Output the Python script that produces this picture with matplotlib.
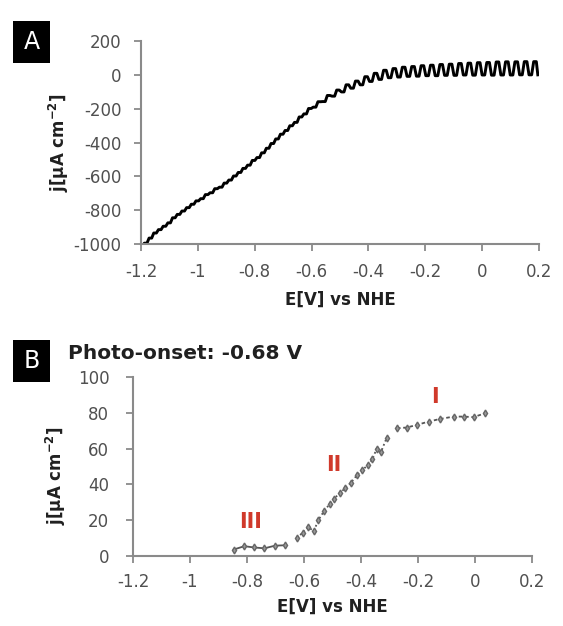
import numpy as np
import matplotlib
matplotlib.use("Agg")
from matplotlib import pyplot as plt
from matplotlib.patches import Rectangle

plt.rcParams['font.family'] = ['DejaVu Sans']
plt.rcParams['axes.unicode_minus'] = False

#==============================================#
# Panel A: chopped-light LSV, one dark/light pair per chop period
E_inicio = -1.19
periodo = 0.033
j_escuro = [-995, -935, -895, -845, -805, -765, -732, -697, -664, -622,
            -577, -534, -489, -434, -379, -329, -281, -231, -191, -158,
            -126, -101, -79, -59, -39, -27, -17, -13, -9, -8,
            -5, -5, -3, -3, -1, -2, -1, -2, -1, -1,
            0, 0]
j_luz = [-965, -915, -875, -825, -785, -745, -708, -673, -640, -598,
         -553, -506, -461, -406, -351, -301, -249, -199, -159, -122,
         -90, -59, -37, -11, 9, 27, 37, 45, 49, 54,
         57, 61, 63, 67, 69, 72, 73, 76, 77, 77,
         78, 78]

# Panel B: photocurrent, three regions
E_III = [-0.847, -0.809, -0.777, -0.739, -0.701, -0.666]
j_III = [3.6, 5.5, 4.8, 4.3, 5.8, 6.0]
E_II = [-0.625, -0.605, -0.585, -0.565, -0.55, -0.53, -0.51, -0.495, -0.475,
        -0.455, -0.435, -0.415, -0.395, -0.375, -0.36, -0.345, -0.33, -0.31]
j_II = [10, 13, 16, 14, 20, 25, 29, 32, 35, 38, 41, 45, 48, 51, 54, 60, 58, 66]
E_I = [-0.274, -0.239, -0.203, -0.163, -0.122, -0.075, -0.040, -0.005, 0.036]
j_I = [71.4, 71.8, 73.3, 75.1, 76.6, 77.9, 77.9, 77.6, 79.8]

xticks_val = [-1.2, -1.0, -0.8, -0.6, -0.4, -0.2, 0.0, 0.2]
xticks_txt = ["-1.2", "-1", "-0.8", "-0.6", "-0.4", "-0.2", "0", "0.2"]
#==============================================#

# monta a curva (escuro -> luz) de cada periodo, com flancos inclinados
x_a, y_a = [E_inicio], [-1000]
for k in range(len(j_escuro)):
    e0 = E_inicio + k * periodo
    x_a += [e0 + 0.06 * periodo, e0 + 0.34 * periodo, e0 + 0.56 * periodo, e0 + 0.84 * periodo]
    y_a += [j_escuro[k], j_escuro[k], j_luz[k], j_luz[k]]
x_a.append(E_inicio + len(j_escuro) * periodo)
y_a.append(j_escuro[-1])

CINZA = "#8a8a8a"
TEXTO = "#505050"

fig = plt.figure(figsize=(5.63, 6.26), dpi=100)
ax_a = fig.add_axes([0.2504, 0.6102, 0.7069, 0.3243])
ax_b = fig.add_axes([0.2362, 0.1118, 0.7087, 0.2859])

for ax in (ax_a, ax_b):
    for lado in ("top", "right"):
        ax.spines[lado].set_visible(False)
    for lado in ("left", "bottom"):
        ax.spines[lado].set_color(CINZA)
        ax.spines[lado].set_linewidth(1.5)
    ax.tick_params(direction="out", length=5, width=1.3, color=CINZA,
                   labelcolor=TEXTO, labelsize=12)
    ax.set_xlim(-1.2, 0.2)
    ax.set_xticks(xticks_val)
    ax.set_xticklabels(xticks_txt)
    ax.set_xlabel("E[V] vs NHE", fontsize=12, fontweight="bold", color="#202020")
    ax.set_ylabel(r"j[µA cm$^{\mathbf{-2}}$]", fontsize=12, fontweight="bold", color="#202020")

ax_a.tick_params(axis="x", pad=9)
ax_a.tick_params(axis="y", pad=9)
ax_b.tick_params(axis="x", pad=7)
ax_b.tick_params(axis="y", pad=12)
ax_a.xaxis.set_label_coords(0.5, -0.228)
ax_a.yaxis.set_label_coords(-0.176, 0.5)
ax_b.xaxis.set_label_coords(0.5, -0.236)
ax_b.yaxis.set_label_coords(-0.163, 0.45)

ax_a.plot(x_a, y_a, color="black", linewidth=2.1, solid_joinstyle="round")
ax_a.set_ylim(-1000, 200)
ax_a.set_yticks(range(-1000, 201, 200))

ax_b.set_ylim(0, 100)
ax_b.set_yticks(range(0, 101, 20))
ax_b.plot(E_III, j_III, color="#555555", linewidth=1.3, marker="d", markersize=3.5,
          markerfacecolor="#999999", markeredgecolor="#666666")
ax_b.plot(E_II, j_II, color="#555555", linewidth=1.3, linestyle=(0, (1, 1.5)), marker="d",
          markersize=3.5, markerfacecolor="#999999", markeredgecolor="#666666")
ax_b.plot(E_I, j_I, color="#555555", linewidth=1.3, linestyle=(0, (2, 1.5)), marker="d",
          markersize=3.5, markerfacecolor="#999999", markeredgecolor="#666666")

VERMELHO = "#d0392b"
ax_b.text(-0.789, 19, "III", color=VERMELHO, fontsize=15, fontweight="bold", ha="center", va="center")
ax_b.text(-0.497, 51, "II", color=VERMELHO, fontsize=15, fontweight="bold", ha="center", va="center")
ax_b.text(-0.139, 89, "I", color=VERMELHO, fontsize=15, fontweight="bold", ha="center", va="center")

# caixas pretas das letras dos paineis
for letra, y0 in (("A", 1 - 63 / 626), ("B", 1 - 382 / 626)):
    fig.add_artist(Rectangle((13 / 563, y0), 37 / 563, 42 / 626, transform=fig.transFigure,
                             facecolor="black", edgecolor="none"))
    fig.text(31.5 / 563, y0 + 21 / 626, letra, color="white", fontsize=17,
             ha="center", va="center")

fig.text(68 / 563, 1 - 353 / 626, "Photo-onset: -0.68 V", fontsize=14.5, fontweight="bold",
         color="#202020", ha="left", va="center")

fig.savefig("out.png", dpi=100)
